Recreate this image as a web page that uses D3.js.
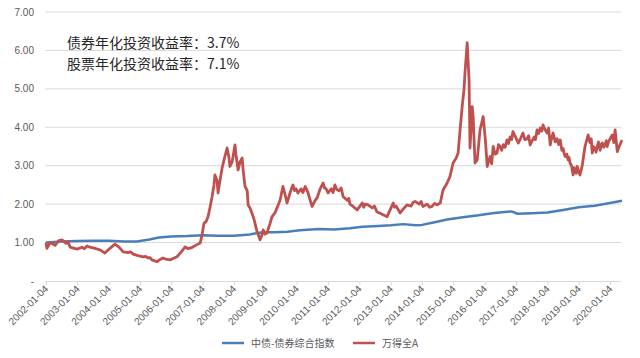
<!DOCTYPE html>
<html><head><meta charset="utf-8">
<script src="https://cdn.jsdelivr.net/npm/d3@7"></script>
<style>html,body{margin:0;padding:0;background:#fff;}svg{display:block;}</style>
</head><body>
<script>
// ---- data ----
const yTickValues = [0, 1, 2, 3, 4, 5, 6, 7];
const yTickLabels = ["-", "1.00", "2.00", "3.00", "4.00", "5.00", "6.00", "7.00"];
const xTickYears = [2002,2003,2004,2005,2006,2007,2008,2009,2010,2011,2012,2013,2014,2015,2016,2017,2018,2019,2020];
const xTickLabels = xTickYears.map(y => y + "-01-04");
const seriesNames = ["中债-债券综合指数", "万得全A"];
const annotations = ["债券年化投资收益率：3.7%", "股票年化投资收益率：7.1%"];

const bondYears = [2002.00,2002.5,2003.0,2003.5,2004.0,2004.5,2004.9,2005.3,2005.6,2006.0,2006.5,2007.0,2007.5,2008.0,2008.5,2008.9,2009.3,2009.7,2010.1,2010.7,2011.2,2011.7,2012.1,2012.6,2013.0,2013.4,2013.8,2014.0,2014.4,2014.8,2015.3,2015.8,2016.3,2016.85,2017.05,2017.5,2018.0,2018.5,2019.0,2019.5,2020.0,2020.38];
const bondValues = [1.00,1.03,1.04,1.05,1.05,1.03,1.03,1.08,1.13,1.16,1.17,1.19,1.18,1.18,1.21,1.27,1.27,1.28,1.32,1.35,1.34,1.37,1.41,1.43,1.45,1.48,1.45,1.46,1.53,1.60,1.66,1.71,1.77,1.81,1.75,1.76,1.78,1.85,1.92,1.96,2.03,2.09];

const stockYears = [2002.00,2002.03,2002.13,2002.29,2002.41,2002.51,2002.64,2002.70,2002.77,2002.99,2003.15,2003.22,2003.31,2003.40,2003.50,2003.60,2003.72,2003.88,2004.04,2004.20,2004.33,2004.46,2004.62,2004.70,2004.78,2004.94,2005.10,2005.18,2005.26,2005.32,2005.38,2005.54,2005.64,2005.73,2005.86,2005.96,2006.09,2006.18,2006.31,2006.44,2006.53,2006.63,2006.76,2006.85,2006.92,2006.98,2007.04,2007.11,2007.17,2007.23,2007.30,2007.36,2007.39,2007.46,2007.49,2007.55,2007.62,2007.71,2007.78,2007.84,2007.87,2007.94,2008.03,2008.06,2008.13,2008.19,2008.26,2008.29,2008.35,2008.42,2008.45,2008.51,2008.57,2008.64,2008.67,2008.73,2008.80,2008.83,2008.89,2008.93,2008.99,2009.05,2009.15,2009.21,2009.31,2009.37,2009.47,2009.56,2009.63,2009.69,2009.79,2009.84,2009.88,2009.93,2009.98,2010.04,2010.14,2010.20,2010.27,2010.32,2010.36,2010.43,2010.49,2010.59,2010.65,2010.75,2010.84,2010.89,2010.94,2011.00,2011.10,2011.16,2011.22,2011.28,2011.35,2011.42,2011.48,2011.61,2011.66,2011.70,2011.80,2011.93,2012.09,2012.14,2012.18,2012.28,2012.41,2012.48,2012.56,2012.69,2012.82,2012.88,2012.98,2013.08,2013.12,2013.17,2013.30,2013.43,2013.52,2013.65,2013.72,2013.78,2013.91,2013.97,2014.03,2014.16,2014.24,2014.32,2014.40,2014.48,2014.58,2014.67,2014.80,2014.89,2014.99,2015.09,2015.15,2015.21,2015.28,2015.34,2015.37,2015.44,2015.50,2015.53,2015.60,2015.63,2015.69,2015.76,2015.85,2015.95,2016.02,2016.08,2016.17,2016.22,2016.27,2016.33,2016.39,2016.44,2016.49,2016.54,2016.59,2016.65,2016.71,2016.76,2016.81,2016.86,2016.90,2016.98,2017.07,2017.15,2017.22,2017.28,2017.35,2017.40,2017.45,2017.52,2017.58,2017.62,2017.67,2017.72,2017.77,2017.82,2017.86,2017.92,2017.99,2018.04,2018.09,2018.13,2018.18,2018.25,2018.31,2018.36,2018.41,2018.46,2018.50,2018.54,2018.57,2018.62,2018.66,2018.69,2018.72,2018.77,2018.82,2018.85,2018.88,2018.92,2018.95,2019.00,2019.04,2019.11,2019.20,2019.30,2019.36,2019.40,2019.43,2019.47,2019.52,2019.55,2019.59,2019.63,2019.68,2019.72,2019.75,2019.80,2019.84,2019.88,2019.91,2019.95,2020.00,2020.07,2020.12,2020.16,2020.23,2020.29,2020.38];
const stockValues = [1.00,0.85,1.00,0.93,1.05,1.07,0.98,1.02,0.88,0.83,0.88,0.84,0.91,0.88,0.86,0.84,0.81,0.73,0.85,0.96,0.88,0.76,0.74,0.76,0.70,0.66,0.63,0.64,0.60,0.61,0.55,0.50,0.56,0.60,0.56,0.55,0.60,0.63,0.75,0.89,0.84,0.86,0.92,0.96,0.99,1.20,1.50,1.55,1.67,1.90,2.20,2.50,2.76,2.60,2.29,2.60,2.94,3.25,3.46,3.20,2.98,3.10,3.54,3.30,2.89,3.10,3.20,2.90,2.46,2.35,1.98,1.90,1.77,1.60,1.50,1.30,1.15,1.07,1.20,1.33,1.22,1.25,1.50,1.67,1.78,1.90,2.10,2.46,2.25,2.03,2.30,2.42,2.50,2.35,2.40,2.29,2.40,2.30,2.46,2.38,2.30,2.10,1.94,2.10,2.16,2.40,2.55,2.42,2.40,2.29,2.40,2.30,2.50,2.38,2.35,2.42,2.20,2.10,2.15,2.00,1.94,1.85,2.03,1.92,2.00,1.98,1.90,1.95,1.80,1.75,1.70,1.67,1.85,2.03,1.92,1.95,1.77,1.90,1.98,1.95,2.05,2.07,2.00,2.07,1.94,2.00,1.92,1.94,2.02,1.98,2.03,2.37,2.55,2.72,3.07,3.20,3.33,3.90,4.54,5.00,5.42,6.20,5.23,3.46,4.54,4.28,3.07,3.15,3.93,4.28,3.67,2.98,3.24,3.05,3.50,3.30,3.33,3.55,3.50,3.40,3.55,3.48,3.67,3.58,3.75,3.68,3.89,3.75,3.59,3.72,3.85,3.68,3.70,3.78,3.54,3.66,3.75,3.68,3.93,3.84,3.98,3.90,4.06,3.95,3.85,3.98,3.54,3.70,3.85,3.62,3.70,3.55,3.67,3.40,3.45,3.30,3.24,3.30,3.15,3.22,3.07,3.00,2.76,2.95,2.90,2.80,2.98,2.85,2.76,3.00,3.50,3.80,3.60,3.70,3.33,3.50,3.45,3.35,3.50,3.62,3.40,3.55,3.59,3.48,3.55,3.65,3.50,3.62,3.70,3.80,3.60,3.93,3.37,3.50,3.67];

// ---- chart ----
const W = 640, H = 358;
const svg = d3.select("body").append("svg").attr("width", W).attr("height", H)
  .style("font-family", "'Liberation Sans', Arial, sans-serif");

const x = d3.scaleLinear().domain([2002, 2020.38]).range([46, 622]);
const y = d3.scaleLinear().domain([0, 7]).range([281, 12]);
const gridX0 = 45, gridX1 = 621;

// grid
svg.append("g").selectAll("line").data(yTickValues.filter(v => v > 0)).join("line")
  .attr("x1", gridX0).attr("x2", gridX1)
  .attr("y1", d => y(d)).attr("y2", d => y(d))
  .attr("stroke", "#d9d9d9").attr("stroke-width", 1);

// y labels
svg.append("g").selectAll("text").data(yTickValues).join("text")
  .attr("x", 34).attr("y", d => y(d) + 3.5)
  .attr("text-anchor", "end").attr("font-size", 10).attr("fill", "#595959")
  .text((d, i) => yTickLabels[i]);

// x axis
const xAxis = d3.axisBottom(x).tickValues(xTickYears).tickSize(4)
  .tickFormat((d, i) => xTickLabels[i]);
const gx = svg.append("g").attr("transform", `translate(0,${y(0)})`).call(xAxis);
gx.select(".domain").attr("stroke", "#d9d9d9").attr("d", `M${gridX0},0.5H${gridX1}`);
gx.selectAll(".tick line").attr("stroke", "#d9d9d9");
gx.selectAll(".tick text")
  .attr("font-size", 10).attr("fill", "#595959")
  .attr("font-family", "'Liberation Sans', Arial, sans-serif")
  .attr("text-anchor", "end").attr("dy", "0.35em")
  .attr("transform", "translate(0,6) rotate(-45)")
  .attr("x", 0).attr("y", 0);

// lines
const bondData = bondYears.map((t, i) => [t, bondValues[i]]);
const stockData = stockYears.map((t, i) => [t, stockValues[i]]);
const line = d3.line().x(d => x(d[0])).y(d => y(d[1]));
svg.append("path").datum(bondData).attr("d", line)
  .attr("fill", "none").attr("stroke", "#4a7ebb").attr("stroke-width", 2.5).attr("stroke-linejoin", "round");
svg.append("path").datum(stockData).attr("d", line)
  .attr("fill", "none").attr("stroke", "#c0504d").attr("stroke-width", 2.8).attr("stroke-linejoin", "round");

// annotations
svg.append("g").selectAll("text").data(annotations).join("text")
  .attr("x", 67).attr("y", (d, i) => 48 + i * 20.5)
  .attr("font-size", 14).attr("fill", "#262626")
  .attr("font-family", "'Noto Sans CJK SC', sans-serif")
  .text(d => d);

// legend
const legendColors = ["#4a7ebb", "#c0504d"];
const legendX = [222, 353];
const lg = svg.append("g");
seriesNames.forEach((name, i) => {
  lg.append("line").attr("x1", legendX[i]).attr("x2", legendX[i] + 22)
    .attr("y1", 343).attr("y2", 343).attr("stroke", legendColors[i]).attr("stroke-width", 2.5);
  lg.append("text").attr("x", legendX[i] + 29).attr("y", 346.5)
    .attr("font-size", 10).attr("fill", "#595959")
    .attr("font-family", "'Noto Sans CJK SC', sans-serif")
    .text(name);
});
</script>
</body></html>
